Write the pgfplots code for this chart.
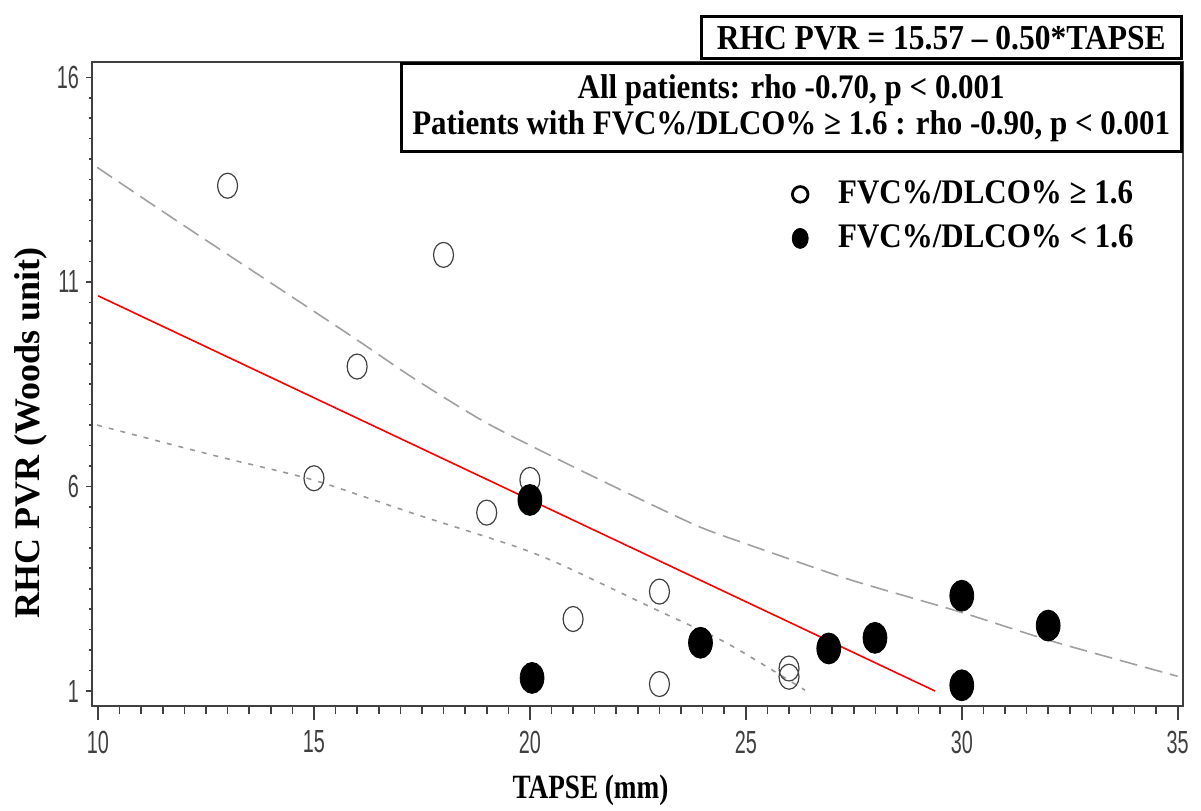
\documentclass[border=0pt]{standalone}
\usepackage{pgfplots}
\pgfplotsset{compat=1.18}
\usepackage{fontspec}
\setmainfont{Liberation Serif}
\newfontfamily\ticksans{Liberation Sans}[FakeStretch=0.62]
\newfontfamily\xlabfont{Liberation Serif}[FakeStretch=0.8]
\newfontfamily\boxfont{Liberation Serif}[FakeStretch=0.9]
\definecolor{axgray}{HTML}{404040}
\definecolor{ciup}{HTML}{A0A0A0}
\definecolor{cilow}{HTML}{999999}

\pgfplotstableread{
x y
13.0 13.35
18.0 11.66
16.0 8.93
15.0 6.20
19.0 5.36
20.0 6.16
21.0 2.76
23.0 3.43
23.0 1.17
26.0 1.55
26.0 1.35
}\highratio

\pgfplotstableread{
x y
20.0 5.67
20.05 1.32
23.95 2.18
26.92 2.04
27.99 2.30
30.0 3.33
30.0 1.14
32.0 2.60
}\lowratio

\pgfplotstableread{
x y
9.98 13.80
11.97 12.39
15.76 9.75
17.30 8.65
19.00 7.55
21.16 6.40
23.78 5.08
25.00 4.60
27.18 3.80
28.11 3.50
30.00 2.92
32.08 2.22
35.00 1.36
}\upperci

\pgfplotstableread{
x y
9.98 7.50
11.90 6.97
12.94 6.69
14.98 6.16
17.30 5.34
19.62 4.55
20.70 4.10
22.86 3.02
24.56 2.17
26.37 1.02
}\lowerci

\pgfplotsset{
  common/.style={
    scale only axis, width=545.35pt, height=321.7pt,
    xmin=9.861, xmax=35.115, ymin=0.641, ymax=16.367,
    tick align=outside, xtick pos=left, ytick pos=left,
    axis line style={axgray, line width=1pt},
    tick style={axgray, line width=0.8pt},
    tick label style={font=\ticksans\fontsize{16}{16}\selectfont, text=axgray},
    /pgf/number format/assume math mode=true,
  }
}

\begin{document}
\begin{tikzpicture}
% x ticks (longer)
\begin{axis}[common,
  xtick={10,15,20,25,30,35}, ytick=\empty,
  minor x tick num=9,
  major tick length=7pt, minor tick length=4pt,
  xticklabel style={yshift=-2pt},
]
\addplot[draw=none, forget plot] coordinates {(10,1) (35,16)};
\end{axis}
% main axis with y ticks and data
\begin{axis}[common,
  xtick=\empty, ytick={1,6,11,16},
  minor y tick num=9,
  major tick length=3pt, minor tick length=1.5pt,
  xlabel={TAPSE (mm)}, ylabel={RHC PVR (Woods unit)},
  xlabel style={font=\xlabfont\bfseries\fontsize{17}{17}\selectfont,
    at={(axis description cs:0.457,-0.132)}, anchor=center},
  ylabel style={font=\bfseries\fontsize{18}{18}\selectfont,
    at={(axis description cs:-0.056,0.424)}, anchor=center},
  legend cell align=left,
  legend style={at={(rel axis cs:0.642,0.818)}, anchor=north west, draw=none, fill=none,
    inner sep=0pt, outer sep=0pt, row sep=7pt, column sep=15pt,
    font=\boxfont\bfseries\fontsize{17.2}{17.2}\selectfont,
    nodes={inner sep=0pt, text height=12pt, text depth=3pt}},
]
\addplot[red, line width=0.8pt, forget plot] coordinates {(10,10.66) (29.38,1.0)};
\addplot[ciup, line width=0.8pt, smooth, tension=0.4, dash pattern=on 9pt off 4pt, forget plot] table {\upperci};
\addplot[cilow, line width=0.8pt, smooth, tension=0.4, dash pattern=on 2.5pt off 3.5pt, forget plot] table {\lowerci};
\addplot[only marks, mark=o, mark size=6.25pt,
  mark options={xscale=0.8, draw=black!75, line width=0.6pt},
  legend image code/.code={\draw[mark=o, mark size=3.9pt, mark options={line width=1.4pt, draw=black}] plot coordinates {(0pt,0pt)};}
] table {\highratio};
\addlegendentry{FVC\%/DLCO\% ≥ 1.6}
\addplot[only marks, mark=*, mark size=7.75pt,
  mark options={xscale=0.77, fill=black, draw=black},
  legend image code/.code={\draw[mark=*, mark size=5pt, mark options={xscale=0.8, fill=black, draw=black}] plot coordinates {(0pt,0pt)};}
] table {\lowratio};
\addlegendentry{FVC\%/DLCO\% < 1.6}
\coordinate (NE) at (rel axis cs:1,1);
\coordinate (SW) at (rel axis cs:0,0);
\end{axis}
\node[draw, fill=white, line width=1.5pt, anchor=south east, minimum width=240pt, minimum height=21pt, inner sep=0pt,
  font=\boxfont\bfseries\fontsize{17.5}{17.5}\selectfont] at ([yshift=1pt]NE) {RHC PVR = 15.57 – 0.50*TAPSE};
\node[draw, fill=white, line width=1.5pt, anchor=north east, minimum width=390pt, minimum height=44pt, inner sep=0pt,
  align=center, font=\boxfont\bfseries\fontsize{17.2}{18}\selectfont] at (NE)
  {All patients: rho -0.70, p < 0.001\\ Patients with FVC\%/DLCO\% ≥ 1.6 : rho -0.90, p < 0.001};
\pgfresetboundingbox
\path[use as bounding box] (SW) ++(-46pt,-52.15pt) rectangle ++(600.5pt,405pt);
\end{tikzpicture}
\end{document}
